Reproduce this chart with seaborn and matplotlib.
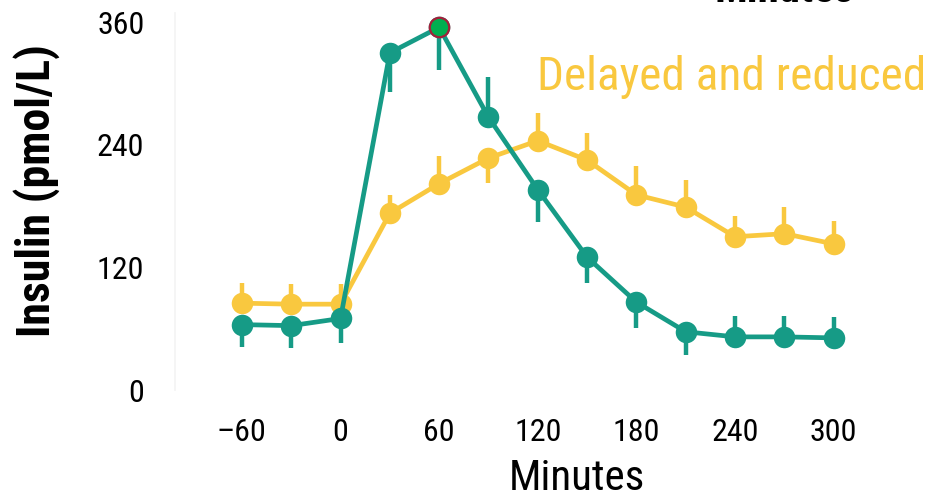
import numpy as np
import pandas as pd
import matplotlib
matplotlib.use("Agg")
import matplotlib.pyplot as plt
from matplotlib import font_manager
import seaborn as sns

# data
minutes = [-60, -30, 0, 30, 60, 90, 120, 150, 180, 210, 240, 270, 300]
normal = [64, 63, 70, 330, 355, 267, 196, 130, 86, 57, 52, 52, 51]
normal_err = [22, 22, 24, 38, 42, 39, 32, 25, 25, 23, 20, 20, 20]
normal_side = [-1, -1, -1, -1, -1, 1, -1, -1, -1, -1, 1, 1, 1]
delayed = [85, 84, 84, 173, 202, 227, 244, 225, 191, 179, 150, 153, 143]
delayed_err = [20, 20, 20, 18, 27, 24, 27, 27, 28, 27, 20, 26, 22]
delayed_side = [1, 1, 1, 1, 1, -1, 1, 1, 1, 1, 1, 1, 1]
peak_minute = 60
x_ticks = [-60, 0, 60, 120, 180, 240, 300]
y_ticks = [0, 120, 240, 360]

teal = "#169B86"
yellow = "#F9C83F"

sns.set_theme(style="white")
# narrow font if one is around
have = {f.name for f in font_manager.fontManager.ttflist}
cands = ["Liberation Sans Narrow", "Roboto Condensed", "Open Sans Condensed",
         "Noto Sans Condensed", "Roboto"]
fam = [c for c in cands if c in have][:1] + ["DejaVu Sans"]
plt.rcParams["font.family"] = fam
plt.rcParams["text.color"] = "black"

df = pd.DataFrame({
    "Minutes": minutes * 2,
    "Insulin": normal + delayed,
    "group": ["normal"] * len(minutes) + ["delayed"] * len(minutes),
})

fig = plt.figure(figsize=(9.32, 4.98), dpi=100)
ax = fig.add_axes([175 / 932, 1 - 390 / 498, (860 - 175) / 932, (390 - 13) / 498])

def one_sided(err, side):
    lo = [e if s < 0 else 0 for e, s in zip(err, side)]
    hi = [e if s > 0 else 0 for e, s in zip(err, side)]
    return [lo, hi]

ax.errorbar(minutes, delayed, yerr=one_sided(delayed_err, delayed_side),
            fmt="none", ecolor=yellow, elinewidth=3.2, capsize=0, zorder=2)
sns.lineplot(data=df[df.group == "delayed"], x="Minutes", y="Insulin", ax=ax,
             color=yellow, lw=3.4, marker="o", markersize=15.5, markeredgewidth=0,
             zorder=3)
ax.errorbar(minutes, normal, yerr=one_sided(normal_err, normal_side),
            fmt="none", ecolor=teal, elinewidth=3.2, capsize=0, zorder=4)
sns.lineplot(data=df[df.group == "normal"], x="Minutes", y="Insulin", ax=ax,
             color=teal, lw=3.4, marker="o", markersize=15.5, markeredgewidth=0,
             zorder=5)

# highlighted peak
pk = minutes.index(peak_minute)
ax.plot([minutes[pk]], [normal[pk]], "o", ms=14, mfc="#00AE50", mec="#A3203A",
        mew=1.6, zorder=6)

ax.set_xlim(-100.7, 316)
ax.set_ylim(0, 369)
ax.set_xticks(x_ticks)
ax.set_xticklabels(["\u201360" if t < 0 else str(t) for t in x_ticks])
ax.set_yticks(y_ticks)
ax.tick_params(axis="both", length=0, labelsize=23, colors="black")
ax.tick_params(axis="x", pad=20)
ax.tick_params(axis="y", pad=22)
ax.set_xlabel("")
ax.set_ylabel("")
for s in ["top", "right", "bottom"]:
    ax.spines[s].set_visible(False)
ax.spines["left"].set_color("#f3f3f3")
ax.spines["left"].set_linewidth(1.2)
ax.patch.set_alpha(0)

fig.text(37 / 932, 1 - 191 / 498, "Insulin (pmol/L)", rotation=90,
         ha="center", va="center", fontsize=33, fontweight="bold")
fig.text(577 / 932, 1 - 490 / 498, "Minutes", ha="center", va="baseline",
         fontsize=31)
fig.text(784 / 932, 1 - 2 / 498, "Minutes", ha="center", va="baseline",
         fontsize=31, fontweight="bold")
fig.text(537 / 932, 1 - 90 / 498, "Delayed and reduced", ha="left",
         va="baseline", fontsize=34, color=yellow)

fig.savefig("out.png", dpi=100)
